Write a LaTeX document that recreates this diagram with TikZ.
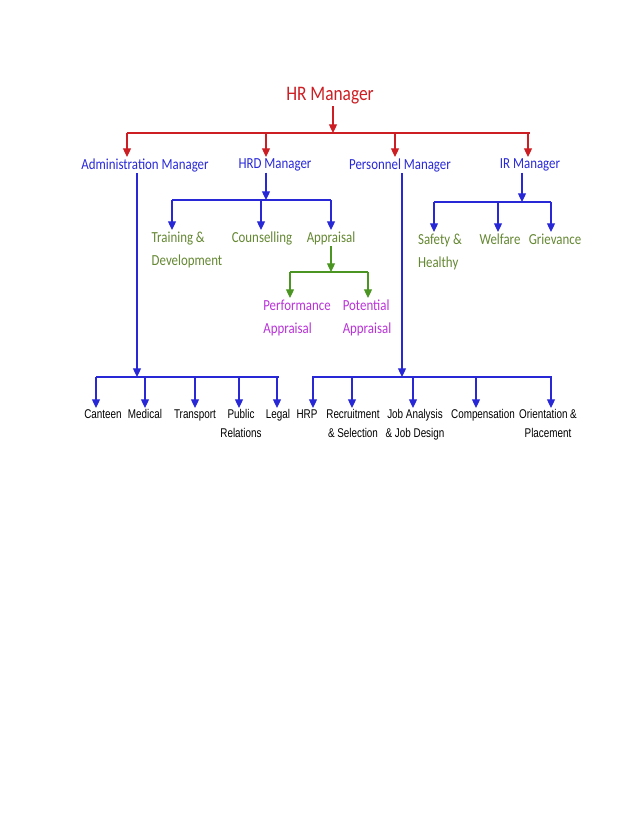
\documentclass[tikz,border=0pt]{standalone}
\usepackage{fontspec}
\setmainfont{Carlito}
\newfontfamily\handfont[FakeStretch=0.84]{Carlito}
\newfontfamily\narrowfont[FakeStretch=0.78]{Liberation Sans}
\usetikzlibrary{arrows.meta}

\definecolor{hrred}{RGB}{205,30,35}
\definecolor{mgrblue}{RGB}{40,40,215}
\definecolor{subgreen}{RGB}{100,135,50}
\definecolor{linegreen}{RGB}{75,150,35}
\definecolor{apppurple}{RGB}{185,50,215}

\tikzset{
  downarrow/.style={-{Triangle[width=6pt,length=6.5pt]}, line width=0.9pt},
  busline/.style={line width=1.6pt},
  hrlabel/.style={text=hrred, font=\handfont\fontsize{15.5}{17}\selectfont, inner sep=1pt, anchor=north},
  mgrlabel/.style={text=mgrblue, font=\handfont\fontsize{11.5}{13}\selectfont, inner sep=1pt, anchor=north},
  sublabel/.style={text=subgreen, font=\handfont\fontsize{11.5}{17.5}\selectfont, inner sep=1pt, anchor=north, align=left},
  applabel/.style={text=apppurple, font=\handfont\fontsize{11.5}{17.5}\selectfont, inner sep=1pt, anchor=north, align=left},
  unitlabel/.style={text=black, font=\narrowfont\fontsize{9.5}{14}\selectfont, inner sep=1pt, anchor=north, align=center}
}

\begin{document}
\begin{tikzpicture}[x=0.75pt,y=-0.75pt]
    \useasboundingbox (0,0) rectangle (638,826);

    % top level
    \node[hrlabel] (hr) at (330,86) {HR Manager};
    \coordinate (hrbus) at (333,133);
    \coordinate (redleft) at (127,133);
    \coordinate (redright) at (530,133);
    \draw[hrred,downarrow] (hrbus |- hr.south) -- (hrbus);
    \draw[hrred,busline] (redleft) -- (redright);

    % managers
    \node[mgrlabel] (adm) at (145,157) {Administration Manager};
    \node[mgrlabel] (hrd) at (275,157) {HRD Manager};
    \node[mgrlabel] (per) at (400,157) {Personnel Manager};
    \node[mgrlabel] (ir) at (530,157) {IR Manager};
    \coordinate (redhrd) at (266,133);
    \coordinate (redper) at (395,133);
    \coordinate (redir) at (528,133);
    \draw[hrred,downarrow] (redleft) -- (redleft |- adm.north);
    \draw[hrred,downarrow] (redhrd) -- (redhrd |- hrd.north);
    \draw[hrred,downarrow] (redper) -- (redper |- per.north);
    \draw[hrred,downarrow] (redir) -- (redir |- ir.north);

    % HRD Manager branch
    \coordinate (hrdbus) at (266,200);
    \coordinate (hrdleft) at (172,200);
    \coordinate (hrdmid) at (261,200);
    \coordinate (hrdright) at (331,200);
    \draw[mgrblue,downarrow] (hrdbus |- hrd.south) -- (hrdbus);
    \draw[mgrblue,busline] (hrdleft) -- (hrdright);
    \node[sublabel] (train) at (187,230) {Training \&\\Development};
    \node[sublabel] (couns) at (262,230) {Counselling};
    \node[sublabel] (appr) at (331,230) {Appraisal};
    \draw[mgrblue,downarrow] (hrdleft) -- (hrdleft |- train.north);
    \draw[mgrblue,downarrow] (hrdmid) -- (hrdmid |- couns.north);
    \draw[mgrblue,downarrow] (hrdright) -- (hrdright |- appr.north);

    % appraisal split
    \coordinate (appbus) at (331,272);
    \coordinate (appleft) at (290,272);
    \coordinate (appright) at (368,272);
    \draw[linegreen,downarrow] (appr.south) -- (appbus);
    \draw[linegreen,busline] (appleft) -- (appright);
    \node[applabel] (perf) at (297,298) {Performance\\Appraisal};
    \node[applabel] (pot) at (367,298) {Potential\\Appraisal};
    \draw[linegreen,downarrow] (appleft) -- (appleft |- perf.north);
    \draw[linegreen,downarrow] (appright) -- (appright |- pot.north);

    % IR Manager branch
    \coordinate (irbus) at (522,202);
    \coordinate (irleft) at (434,202);
    \coordinate (irmid) at (498,202);
    \coordinate (irright) at (551,202);
    \draw[mgrblue,downarrow] (irbus |- ir.south) -- (irbus);
    \draw[mgrblue,busline] (irleft) -- (irright);
    \node[sublabel] (safe) at (440,232) {Safety \&\\Healthy};
    \node[sublabel] (welf) at (500,232) {Welfare};
    \node[sublabel] (griev) at (555,232) {Grievance};
    \draw[mgrblue,downarrow] (irleft) -- (irleft |- safe.north);
    \draw[mgrblue,downarrow] (irmid) -- (irmid |- welf.north);
    \draw[mgrblue,downarrow] (irright) -- (irright |- griev.north);

    % Administration Manager branch
    \coordinate (admbus) at (137,377);
    \coordinate (admleft) at (96,377);
    \coordinate (admright) at (279,377);
    \draw[mgrblue,downarrow] (admbus |- adm.south) -- (admbus);
    \draw[mgrblue,busline] (admleft) -- (admright);
    \node[unitlabel] (cant) at (103,408) {Canteen};
    \node[unitlabel] (med) at (145,408) {Medical};
    \node[unitlabel] (trans) at (195,408) {Transport};
    \node[unitlabel] (pub) at (241,408) {Public\\Relations};
    \node[unitlabel] (legal) at (278,408) {Legal};
    \coordinate (admc) at (96,377);
    \coordinate (admm) at (145,377);
    \coordinate (admt) at (195,377);
    \coordinate (admp) at (239,377);
    \coordinate (adml) at (277,377);
    \draw[mgrblue,downarrow] (admc) -- (admc |- cant.north);
    \draw[mgrblue,downarrow] (admm) -- (admm |- med.north);
    \draw[mgrblue,downarrow] (admt) -- (admt |- trans.north);
    \draw[mgrblue,downarrow] (admp) -- (admp |- pub.north);
    \draw[mgrblue,downarrow] (adml) -- (adml |- legal.north);

    % Personnel Manager branch
    \coordinate (perbus) at (402,377);
    \coordinate (perleft) at (312,377);
    \coordinate (perright) at (552,377);
    \draw[mgrblue,downarrow] (perbus |- per.south) -- (perbus);
    \draw[mgrblue,busline] (perleft) -- (perright);
    \node[unitlabel] (hrp) at (307,408) {HRP};
    \node[unitlabel] (recr) at (353,408) {Recruitment\\\& Selection};
    \node[unitlabel] (job) at (415,408) {Job Analysis\\\& Job Design};
    \node[unitlabel] (comp) at (483,408) {Compensation};
    \node[unitlabel] (orient) at (548,408) {Orientation \&\\Placement};
    \coordinate (perh) at (313,377);
    \coordinate (perr) at (352,377);
    \coordinate (perj) at (413,377);
    \coordinate (perc) at (476,377);
    \coordinate (pero) at (551,377);
    \draw[mgrblue,downarrow] (perh) -- (perh |- hrp.north);
    \draw[mgrblue,downarrow] (perr) -- (perr |- recr.north);
    \draw[mgrblue,downarrow] (perj) -- (perj |- job.north);
    \draw[mgrblue,downarrow] (perc) -- (perc |- comp.north);
    \draw[mgrblue,downarrow] (pero) -- (pero |- orient.north);
\end{tikzpicture}
\end{document}
